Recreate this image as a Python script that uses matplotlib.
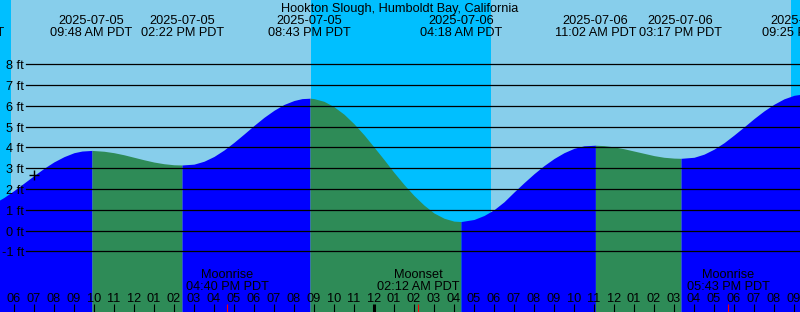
import matplotlib
matplotlib.use("Agg")
import matplotlib.pyplot as plt
import matplotlib.transforms as mtransforms

plt.rcParams["font.family"] = ["Liberation Sans", "DejaVu Sans"]
plt.rcParams["font.size"] = 9.2

W, H = 800, 312

title = "Hookton Slough, Humboldt Bay, California"

# tide height readings (ft), hours since 2025-07-05 00:00 PDT
hours = [5.0, 5.5, 6.0, 6.5, 7.0, 7.5, 8.0, 8.5, 9.0, 9.4, 9.9,
         10.5, 11.0, 11.5, 12.0, 12.5, 13.0, 13.5, 14.0, 14.4,
         15.0, 15.5, 16.0, 16.5, 17.0, 17.5, 18.0, 18.5, 19.0, 19.5, 20.0, 20.4, 20.8,
         21.0, 21.5, 22.0, 22.5, 23.0, 23.5, 24.0, 24.5, 25.0, 25.5, 26.0, 26.5,
         27.0, 27.5, 28.0, 28.35,
         29.0, 29.5, 30.0, 30.5, 31.0, 31.5, 32.0, 32.5, 33.0, 33.5, 34.0, 34.5, 35.07,
         35.5, 36.0, 36.5, 37.0, 37.5, 38.0, 38.5, 39.0, 39.35,
         40.0, 40.5, 41.0, 41.5, 42.0, 42.5, 43.0, 43.5, 44.0, 44.5, 45.0, 45.5, 46.0]
feet = [1.31, 1.59, 1.92, 2.28, 2.64, 2.99, 3.30, 3.55, 3.74, 3.82, 3.85,
        3.81, 3.74, 3.64, 3.52, 3.40, 3.29, 3.21, 3.16, 3.15,
        3.19, 3.33, 3.56, 3.87, 4.24, 4.64, 5.05, 5.44, 5.78, 6.06, 6.25, 6.34, 6.36,
        6.34, 6.21, 5.95, 5.59, 5.13, 4.60, 4.01, 3.41, 2.79, 2.21, 1.68, 1.22,
        0.84, 0.59, 0.45, 0.43,
        0.53, 0.72, 1.00, 1.38, 1.85, 2.30, 2.73, 3.12, 3.46, 3.74, 3.95, 4.07, 4.10,
        4.08, 4.02, 3.93, 3.82, 3.71, 3.60, 3.52, 3.48, 3.47,
        3.52, 3.67, 3.91, 4.22, 4.59, 4.98, 5.38, 5.75, 6.07, 6.33, 6.50, 6.57, 6.55]

# times where the tide turns (fill colour switches)
turns = [9.9, 14.4, 20.8, 28.35, 35.07, 39.35]

# labelled high / low events
event_hours = [3.43, 9.8, 14.367, 20.717, 28.3, 35.033, 39.283, 45.417]
event_dates = ["2025-07-05", "2025-07-05", "2025-07-05", "2025-07-05",
               "2025-07-06", "2025-07-06", "2025-07-06", "2025-07-06"]
event_times = ["03:26 AM PDT", "09:48 AM PDT", "02:22 PM PDT", "08:43 PM PDT",
               "04:18 AM PDT", "11:02 AM PDT", "03:17 PM PDT", "09:25 PM PDT"]

# night spans (sunset -> sunrise)
nights = [(0.0, 5.85), (20.85, 29.85), (44.85, 50.0)]

moon_hours = [16.667, 26.2, 41.717]
moon_names = ["Moonrise", "Moonset", "Moonrise"]
moon_times = ["04:40 PM PDT", "02:12 AM PDT", "05:43 PM PDT"]

now_hour, now_feet = 7.0, 2.66

levels = list(range(-1, 9))
x0, x1 = 5.3, 45.3
zero_px, ft_px = 230.5, 20.8

fig = plt.figure(figsize=(W / 100, H / 100), dpi=100)
ax = fig.add_axes([0, 0, 1, 1])
ax.set_axis_off()
ax.set_xlim(x0, x1)
ybot = (zero_px - H) / ft_px
ax.set_ylim(ybot, zero_px / ft_px)

ax.axvspan(x0, x1, color="#87CEEB", lw=0, zorder=0)
for a, b in nights:
    ax.axvspan(a, b, color="#00BFFF", lw=0, zorder=0.5)

# rising = blue, falling = green
cuts = [0] + [hours.index(t) for t in turns] + [len(hours) - 1]
for k in range(len(cuts) - 1):
    i, j = cuts[k], cuts[k + 1]
    col = "#0000FF" if k % 2 == 0 else "#2E8B57"
    ax.fill_between(hours[i:j + 1], feet[i:j + 1], ybot, color=col, lw=0, zorder=1)

for lv in levels:
    ax.axhline(lv, xmin=26 / W, xmax=1, color="black", lw=0.9, zorder=2)


def py(p):
    # pixel row from top -> axes fraction
    return 1 - p / H


tr = mtransforms.blended_transform_factory(ax.transData, ax.transAxes)
tr_ax = ax.transAxes

for lv in levels:
    ax.text(24 / W, py(zero_px - lv * ft_px + 5), f"{lv} ft", transform=tr_ax,
            ha="right", va="baseline", zorder=3)

ax.text(0.5, py(11.7), title, transform=tr_ax, ha="center", va="baseline", zorder=3)
for t, d, s in zip(event_hours, event_dates, event_times):
    ax.text(t + 0.04, py(24), d, transform=tr, ha="center", va="baseline", zorder=3)
    ax.text(t + 0.04, py(36), s, transform=tr, ha="center", va="baseline", zorder=3)

for t, n, s in zip(moon_hours, moon_names, moon_times):
    ax.text(t, py(278.3), n, transform=tr, ha="center", va="baseline", zorder=3)
    ax.text(t, py(290), s, transform=tr, ha="center", va="baseline", zorder=3)

for hr in range(5, 47):
    ax.text(hr, py(302), f"{(hr - 1) % 12 + 1:02d}", transform=tr, ha="center",
            va="baseline", zorder=3)
    ax.vlines(hr, py(H), py(304), transform=tr, color="black",
              lw=2.2 if hr == 24 else 0.8, zorder=3)
for t in moon_hours:
    ax.vlines(t, py(H), py(304), transform=tr, color="red", lw=0.8, zorder=3)

ax.plot([now_hour], [now_feet], marker="+", color="black", ms=7, mew=1, zorder=4)

fig.savefig("out.png", dpi=100)
